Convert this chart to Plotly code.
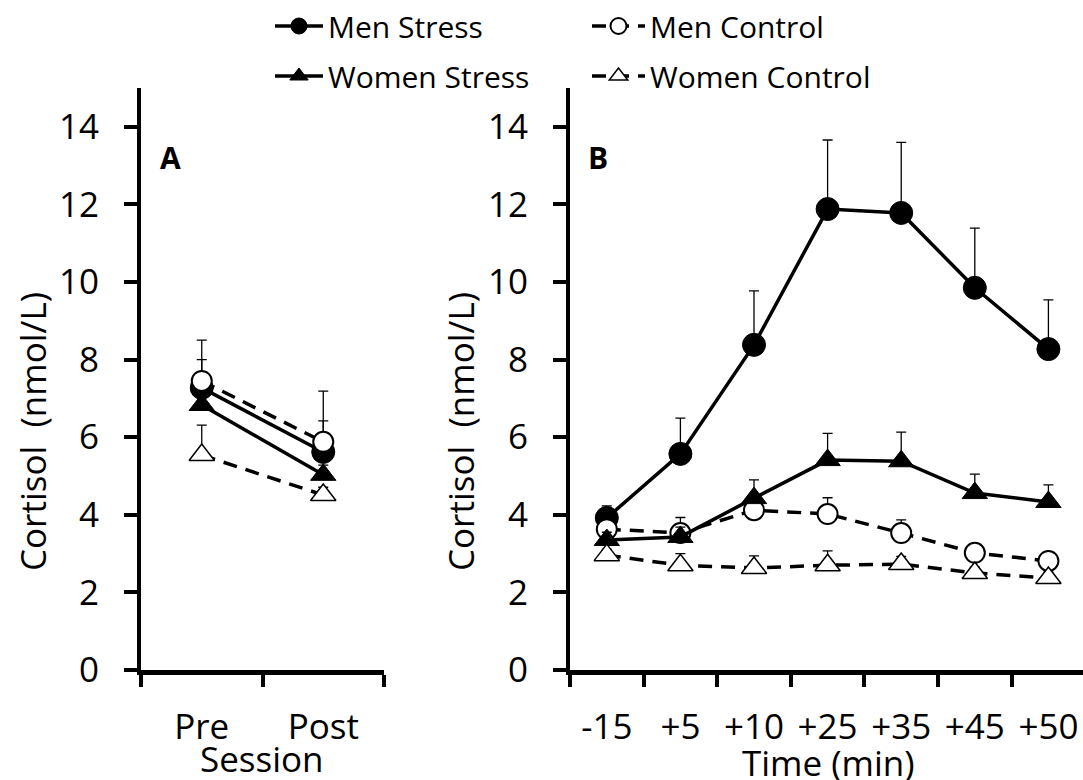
import plotly.graph_objects as go

# Panel A: session means
sessions = ["Pre", "Post"]
a_men_stress = [7.27, 5.62]
a_men_stress_err = [0.73, 0.80]
a_men_control = [7.45, 5.88]
a_men_control_err = [1.05, 1.31]
a_women_stress = [6.83, 5.03]
a_women_stress_err = [0.25, 0.25]
a_women_control = [5.54, 4.51]
a_women_control_err = [0.77, 0.20]

# Panel B: time course
times = ["-15", "+5", "+10", "+25", "+35", "+45", "+50"]
b_men_stress = [3.92, 5.57, 8.38, 11.88, 11.78, 9.85, 8.27]
b_men_stress_err = [0.31, 0.92, 1.39, 1.78, 1.82, 1.54, 1.27]
b_men_control = [3.63, 3.53, 4.12, 4.02, 3.53, 3.02, 2.81]
b_men_control_err = [0.25, 0.40, 0.25, 0.42, 0.34, 0.20, 0.20]
b_women_stress = [3.35, 3.43, 4.43, 5.41, 5.38, 4.56, 4.33]
b_women_stress_err = [0.20, 0.25, 0.47, 0.69, 0.75, 0.49, 0.44]
b_women_control = [2.96, 2.70, 2.63, 2.70, 2.73, 2.50, 2.37]
b_women_control_err = [0.15, 0.30, 0.31, 0.37, 0.20, 0.15, 0.15]

FONT = "Open Sans"
W, H = 1083, 780

styles = {
    "Men Stress": dict(line=dict(color="black", width=3.5),
                       marker=dict(symbol="circle", size=23, color="black",
                                   line=dict(color="black", width=1)),
                       legend="legend"),
    "Men Control": dict(line=dict(color="black", width=3.5, dash="14px,9px"),
                        marker=dict(symbol="circle", size=20, color="white",
                                    line=dict(color="black", width=2)),
                        legend="legend2"),
    "Women Stress": dict(line=dict(color="black", width=3.5),
                         marker=dict(symbol="triangle-up", size=22, color="black",
                                     line=dict(color="black", width=1)),
                         legend="legend"),
    "Women Control": dict(line=dict(color="black", width=3.5, dash="14px,9px"),
                          marker=dict(symbol="triangle-up", size=22, color="white",
                                      line=dict(color="black", width=1.5)),
                          legend="legend2"),
}

panel_a = [("Men Stress", a_men_stress, a_men_stress_err),
           ("Men Control", a_men_control, a_men_control_err),
           ("Women Stress", a_women_stress, a_women_stress_err),
           ("Women Control", a_women_control, a_women_control_err)]
panel_b = [("Men Stress", b_men_stress, b_men_stress_err),
           ("Men Control", b_men_control, b_men_control_err),
           ("Women Stress", b_women_stress, b_women_stress_err),
           ("Women Control", b_women_control, b_women_control_err)]

fig = go.Figure()


def add_series(name, x, y, err, xa, ya, show):
    st = styles[name]
    fig.add_trace(go.Scatter(
        x=x, y=y, name=name, legendgroup=name, showlegend=show,
        legend=st["legend"],
        mode="lines+markers", line=st["line"], marker=st["marker"],
        error_y=dict(type="data", symmetric=False, array=err,
                     arrayminus=[0] * len(err), color="black",
                     thickness=1.3, width=5),
        xaxis=xa, yaxis=ya, cliponaxis=False,
    ))


for name, y, err in panel_a:
    add_series(name, sessions, y, err, "x", "y", True)
for name, y, err in panel_b:
    add_series(name, times, y, err, "x2", "y2", False)

y_bottom = (H - 670) / H
y_top = (H - 88) / H

axis_common = dict(showgrid=False, zeroline=False, showline=True, automargin=False,
                   linecolor="black", ticks="outside", tickcolor="black",
                   tickfont=dict(family=FONT, size=35, color="black"))

yaxis_style = dict(axis_common, range=[0, 15], tickvals=[0, 2, 4, 6, 8, 10, 12, 14],
                   linewidth=4, ticklen=13, tickwidth=4, ticklabelstandoff=18,
                   domain=[y_bottom, y_top])
xaxis_style = dict(axis_common, type="category", tickson="boundaries",
                   linewidth=5, ticklen=12, tickwidth=4, ticklabelstandoff=22)

legend_common = dict(orientation="v", y=1.0, xanchor="left", yanchor="top",
                     font=dict(family=FONT, size=30, color="black"),
                     bgcolor="rgba(0,0,0,0)", tracegroupgap=8)

fig.update_layout(
    width=W, height=H,
    margin=dict(l=0, r=0, t=0, b=0),
    plot_bgcolor="white", paper_bgcolor="white",
    font=dict(family=FONT, color="black"),
    xaxis=dict(xaxis_style, domain=[141 / W, 384 / W], range=[-0.5, 1.5], anchor="y"),
    yaxis=dict(yaxis_style, anchor="x"),
    xaxis2=dict(xaxis_style, domain=[570 / W, 1.0], range=[-0.5, 6.47], anchor="y2"),
    yaxis2=dict(yaxis_style, anchor="x2"),
    legend=dict(legend_common, x=270 / W, itemwidth=48),
    legend2=dict(legend_common, x=587 / W, itemwidth=53),
    showlegend=True,
)

label_font = dict(family=FONT, size=35, color="black")
annotations = [
    dict(text="Cortisol  (nmol/L)", x=32 / W, y=(H - 432) / H, textangle=-90),
    dict(text="Cortisol  (nmol/L)", x=460 / W, y=(H - 432) / H, textangle=-90),
    dict(text="Session", x=262 / W, y=(H - 758) / H),
    dict(text="Time (min)", x=828 / W, y=(H - 762) / H),
]
for a in annotations:
    fig.add_annotation(xref="paper", yref="paper", showarrow=False,
                       xanchor="center", yanchor="middle", font=label_font, **a)

for letter, xpos in [("A", 170), ("B", 598)]:
    fig.add_annotation(text="<b>%s</b>" % letter, xref="paper", yref="paper",
                       x=xpos / W, y=(H - 158) / H, showarrow=False,
                       xanchor="center", yanchor="middle",
                       font=dict(family=FONT, size=30, color="black"))

fig.write_html("out.html")
